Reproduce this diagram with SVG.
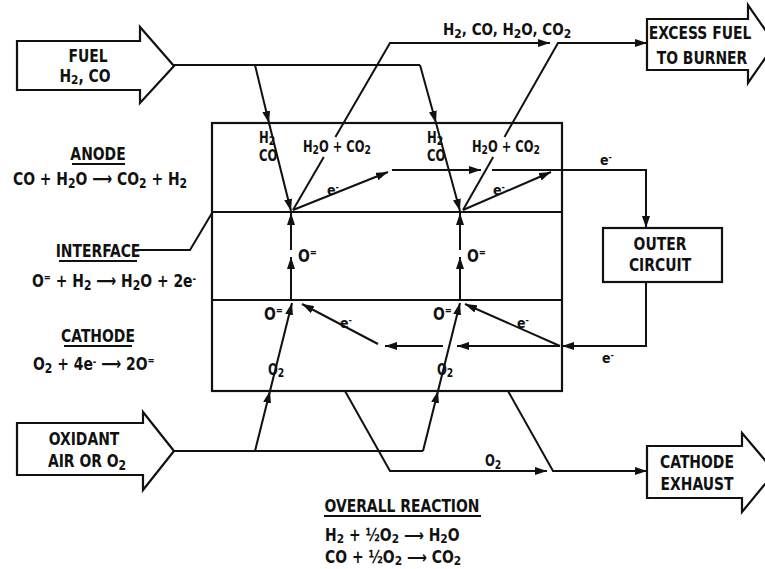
<svg xmlns="http://www.w3.org/2000/svg" width="765" height="569" viewBox="0 0 765 569">
<style>
text{font-family:"Liberation Sans Narrow","DejaVu Sans Condensed","Liberation Sans",sans-serif;font-weight:bold;fill:#111;}
.t{font-size:18px;}
.u{font-size:17px;}
.s{font-size:15px;}
.e{font-size:14px;}
.mid{text-anchor:middle;}
.ln{fill:none;stroke:#111;stroke-width:2;}
.bx{fill:#fff;stroke:#111;stroke-width:2.2;}
.arr{marker-end:url(#ah);}
</style>
<defs>
<marker id="ah" viewBox="0 0 12 8" refX="12" refY="4" markerWidth="12" markerHeight="8" orient="auto" markerUnits="userSpaceOnUse"><path d="M0,0 L12,4 L0,8 z" fill="#111"/></marker>
</defs>
<rect width="765" height="569" fill="#fff"/>

<g id="cell">
<rect x="212" y="123" width="350" height="268" class="bx" stroke-width="2.5"/>
<line x1="212" y1="212" x2="562" y2="212" class="ln"/>
<line x1="212" y1="300" x2="562" y2="300" class="ln"/>
</g>

<g id="fuel">
<polygon points="17,41 140,41 140,27 174,66 140,103 140,90 17,90" class="bx"/>
<text transform="translate(88,62) scale(0.91,1)" class="u mid">FUEL</text>
<text transform="translate(85,82) scale(0.91,1)" class="u mid">H<tspan dy="2" font-size="13">2</tspan><tspan dy="-2">, CO</tspan></text>
</g>

<g id="excess">
<polygon points="647,19 748,19 748,5 775,44 748,83 748,70 647,70" class="bx"/>
<text transform="translate(700,39) scale(0.86,1)" class="t mid">EXCESS FUEL</text>
<text transform="translate(702,64) scale(0.86,1)" class="t mid">TO BURNER</text>
</g>

<g id="outer">
<rect x="603" y="228" width="119" height="54" class="bx"/>
<text transform="translate(660,250) scale(0.86,1)" class="t mid">OUTER</text>
<text transform="translate(660,271) scale(0.86,1)" class="t mid">CIRCUIT</text>
</g>

<g id="oxidant">
<polygon points="17,423 143,423 143,412 174,451 143,490 143,475 17,475" class="bx"/>
<text transform="translate(84,445) scale(0.86,1)" class="t mid">OXIDANT</text>
<text transform="translate(87,467) scale(0.86,1)" class="t mid">AIR OR O<tspan dy="3" font-size="14">2</tspan></text>
</g>

<g id="exhaust">
<polygon points="647,446 742,446 742,433 775,472 742,512 742,498 647,498" class="bx"/>
<text transform="translate(697,468) scale(0.86,1)" class="t mid">CATHODE</text>
<text transform="translate(697,490) scale(0.86,1)" class="t mid">EXHAUST</text>
</g>

<g id="connectors">
<path d="M174,65 H420" class="ln"/>
<path d="M255,65 L269,123" class="ln arr"/>
<path d="M269,123 L291,211" class="ln arr"/>
<path d="M420,65 L436,123" class="ln arr"/>
<path d="M436,123 L460,211" class="ln arr"/>
<path d="M293,210 L323.8,157" class="ln"/>
<path d="M335.4,137 L390,43 H550" class="ln arr"/>
<path d="M463,210 L493.2,157" class="ln"/>
<path d="M504.5,137 L558,43 H647" class="ln arr"/>
<path d="M293,210 L388,172" class="ln arr"/>
<path d="M392,170 H481" class="ln arr"/>
<path d="M463,210 L551,172" class="ln arr"/>
<path d="M492,170 H646 V228" class="ln arr"/>
<path d="M646,282 V346 H562" class="ln arr"/>
<path d="M560,346 H457" class="ln arr"/>
<path d="M443,346 H385" class="ln arr"/>
<path d="M378,344 L302,304" class="ln arr"/>
<path d="M560,346 L465,304" class="ln arr"/>
<path d="M291,300 V257" class="ln arr"/>
<path d="M291,250 V213" class="ln arr"/>
<path d="M460,300 V257" class="ln arr"/>
<path d="M460,250 V213" class="ln arr"/>
<path d="M174,451 H423" class="ln"/>
<path d="M255,451 L270,391" class="ln arr"/>
<path d="M270,391 L292,303" class="ln arr"/>
<path d="M423,451 L438,391" class="ln arr"/>
<path d="M438,391 L460,303" class="ln arr"/>
<path d="M345,391 L390,471 H547" class="ln arr"/>
<path d="M508,391 L553,471 H647" class="ln arr"/>
<path d="M137,250 H190 L212,213" class="ln"/>
</g>

<g id="labels">
<text transform="translate(259,143) scale(0.86,1)" class="s">H<tspan dy="2" font-size="12">2</tspan></text>
<text transform="translate(259,161) scale(0.86,1)" class="s">CO</text>
<text transform="translate(427,143) scale(0.86,1)" class="s">H<tspan dy="2" font-size="12">2</tspan></text>
<text transform="translate(427,161) scale(0.86,1)" class="s">CO</text>
<text transform="translate(303,152) scale(0.85,1)" class="s">H<tspan dy="2" font-size="12">2</tspan><tspan dy="-2">O + CO</tspan><tspan dy="2" font-size="12">2</tspan></text>
<text transform="translate(472,152) scale(0.85,1)" class="s">H<tspan dy="2" font-size="12">2</tspan><tspan dy="-2">O + CO</tspan><tspan dy="2" font-size="12">2</tspan></text>
<text x="443" y="35" class="s">H<tspan dy="3" font-size="12">2</tspan><tspan dy="-3">, CO, H</tspan><tspan dy="3" font-size="12">2</tspan><tspan dy="-3">O, CO</tspan><tspan dy="3" font-size="12">2</tspan></text>
<text x="327" y="195" class="e">e<tspan dy="-5" font-size="9">-</tspan></text>
<text x="493" y="195" class="e">e<tspan dy="-5" font-size="9">-</tspan></text>
<text x="600" y="165" class="e">e<tspan dy="-5" font-size="9">-</tspan></text>
<text x="602" y="363" class="e">e<tspan dy="-5" font-size="9">-</tspan></text>
<text x="340" y="328" class="e">e<tspan dy="-5" font-size="9">-</tspan></text>
<text x="517" y="328" class="e">e<tspan dy="-5" font-size="9">-</tspan></text>
<text transform="translate(298,262) scale(0.86,1)" class="t">O<tspan dy="-6" font-size="11">=</tspan></text>
<text transform="translate(467,262) scale(0.86,1)" class="t">O<tspan dy="-6" font-size="11">=</tspan></text>
<text transform="translate(264,320) scale(0.86,1)" class="t">O<tspan dy="-6" font-size="11">=</tspan></text>
<text transform="translate(433,320) scale(0.86,1)" class="t">O<tspan dy="-6" font-size="11">=</tspan></text>
<text transform="translate(268,375) scale(0.86,1)" class="s">O<tspan dy="2" font-size="12">2</tspan></text>
<text transform="translate(437,375) scale(0.86,1)" class="s">O<tspan dy="2" font-size="12">2</tspan></text>
<text transform="translate(485,466) scale(0.86,1)" class="s">O<tspan dy="3" font-size="12">2</tspan></text>

<text transform="translate(98,160) scale(0.86,1)" class="t mid">ANODE</text>
<line x1="72" y1="164" x2="125" y2="164" class="ln" stroke-width="1.6"/>
<text transform="translate(13,185) scale(0.86,1)" class="t">CO + H<tspan dy="3" font-size="14">2</tspan><tspan dy="-3">O ⟶ CO</tspan><tspan dy="3" font-size="14">2</tspan><tspan dy="-3"> + H</tspan><tspan dy="3" font-size="14">2</tspan></text>
<text transform="translate(98,257) scale(0.86,1)" class="t mid">INTERFACE</text>
<line x1="59" y1="261" x2="137" y2="261" class="ln" stroke-width="1.6"/>
<text transform="translate(32,287) scale(0.86,1)" class="t">O<tspan dy="-6" font-size="11">=</tspan><tspan dy="6"> + H</tspan><tspan dy="3" font-size="14">2</tspan><tspan dy="-3"> ⟶ H</tspan><tspan dy="3" font-size="14">2</tspan><tspan dy="-3">O + 2e</tspan><tspan dy="-5" font-size="11">-</tspan></text>
<text transform="translate(98,342) scale(0.86,1)" class="t mid">CATHODE</text>
<line x1="64" y1="346" x2="132" y2="346" class="ln" stroke-width="1.6"/>
<text transform="translate(33,370) scale(0.86,1)" class="t">O<tspan dy="3" font-size="14">2</tspan><tspan dy="-3"> + 4e</tspan><tspan dy="-5" font-size="11">-</tspan><tspan dy="5"> ⟶ 2O</tspan><tspan dy="-6" font-size="11">=</tspan></text>

<text transform="translate(402,512) scale(0.86,1)" class="t mid">OVERALL REACTION</text>
<line x1="324" y1="516" x2="481" y2="516" class="ln" stroke-width="1.6"/>
<text transform="translate(325,541) scale(0.91,1)" class="u">H<tspan dy="2" font-size="13">2</tspan><tspan dy="-2"> + ½O</tspan><tspan dy="2" font-size="13">2</tspan><tspan dy="-2"> ⟶ H</tspan><tspan dy="2" font-size="13">2</tspan><tspan dy="-2">O</tspan></text>
<text transform="translate(325,563) scale(0.91,1)" class="u">CO + ½O<tspan dy="2" font-size="13">2</tspan><tspan dy="-2"> ⟶ CO</tspan><tspan dy="2" font-size="13">2</tspan></text>
</g>
</svg>
